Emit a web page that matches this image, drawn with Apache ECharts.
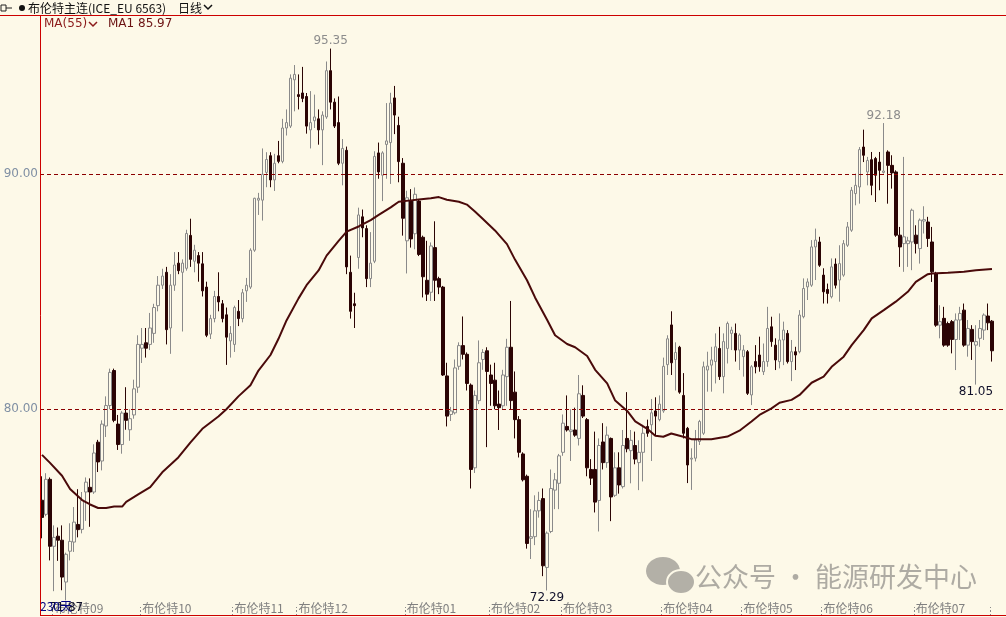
<!DOCTYPE html>
<html><head><meta charset="utf-8">
<script src="https://cdn.jsdelivr.net/npm/echarts@6/dist/echarts.min.js"></script>
<style>html,body{margin:0;padding:0;background:#fdf9e8;}#c{width:1006px;height:617px;}</style>
</head><body><div id="c"></div>
<script>
const opens=[76.13,75.53,77.02,74.17,74.6,74.43,72.65,73.96,74.35,75.1,
74.89,76.48,76.68,76.48,78.6,77.8,79.29,80.16,81.65,79.37,
78.5,79.84,79.13,79.76,80.94,82.6,82.83,82.76,83.23,84.41,
85.28,85.83,83.46,85.28,86.22,85.83,86.0,87.4,86.3,86.54,
86.19,85.2,83.2,83.86,84.8,84.49,84.02,82.91,82.76,84.17,
83.86,85.04,85.2,86.77,88.9,88.9,90.08,90.79,89.76,90.79,
90.55,91.97,92.05,94.02,93.39,93.46,93.31,91.89,92.28,92.36,
91.89,92.44,94.41,93.07,92.2,90.47,91.02,85.83,84.49,86.46,
88.19,87.69,85.56,86.3,90.91,89.96,91.27,91.35,93.25,92.08,
90.47,87.17,88.86,87.47,88.86,87.32,85.49,84.98,86.88,85.56,
85.2,81.42,79.78,79.85,81.83,82.71,82.34,81.03,77.51,80.37,
82.12,82.49,81.46,81.24,80.22,80.15,81.39,82.64,80.73,79.56,
78.1,77.15,74.51,74.58,75.68,76.2,73.27,74.8,76.56,76.85,
78.17,79.27,79.05,79.12,78.76,80.59,79.56,77.44,77.44,76.12,
78.61,77.73,78.76,76.34,77.51,76.71,78.76,78.24,78.46,77.73,
78.17,79.27,79.34,79.93,79.56,79.93,81.9,83.59,82.12,82.64,
80.59,79.19,77.88,77.92,78.63,78.98,81.67,81.88,82.03,82.59,
81.39,82.59,83.23,83.23,82.52,82.24,82.45,80.61,82.03,82.31,
81.6,82.03,83.51,82.73,82.03,82.95,83.23,82.03,82.45,82.45,
83.94,85.21,85.28,86.91,87.12,85.71,85.1,84.79,86.18,85.5,
85.71,86.98,87.62,89.18,89.46,91.16,90.1,90.62,90.67,90.52,
90.08,90.95,90.38,90.1,87.41,87.05,87.05,87.12,87.41,86.84,
88.01,87.97,87.12,85.78,83.58,83.87,83.65,83.73,82.97,83.8,
84.22,82.73,83.4,82.73,83.02,83.37,83.97,83.75];
const closes=[75.40,77.02,74.17,74.55,74.43,72.86,73.83,74.38,75.2,74.88,
76.13,76.9,76.48,78.14,77.76,79.37,80.16,81.57,79.53,78.5,
79.84,79.53,79.6,80.87,82.76,82.76,82.6,83.46,84.33,85.28,
85.67,83.39,85.28,86.14,85.9,86.22,87.48,86.38,86.77,86.22,
85.04,83.15,83.86,84.8,84.57,83.86,83.07,83.23,84.33,83.86,
84.96,85.28,86.77,88.98,88.98,90.0,90.63,89.76,90.47,90.55,
91.97,92.2,94.09,94.25,93.31,93.23,92.05,92.2,92.44,91.89,
92.52,94.41,93.07,92.05,90.47,91.1,86.06,84.17,84.41,88.27,
87.72,85.56,86.22,90.76,90.1,90.91,91.42,93.03,92.52,90.54,
88.13,89.0,87.25,89.15,86.59,85.64,84.9,86.95,85.49,85.2,
81.46,79.71,79.93,81.76,82.71,82.34,81.1,77.44,80.59,81.98,
82.42,81.61,81.1,80.15,80.07,81.46,82.64,80.37,79.56,78.17,
77.0,74.29,74.58,75.68,76.12,73.34,74.73,76.63,77.0,78.02,
79.41,79.12,79.12,78.9,80.66,79.71,77.51,77.07,76.05,78.46,
77.73,78.9,76.27,77.51,76.78,78.46,78.32,78.68,77.88,78.17,
78.98,78.98,79.85,79.71,80.22,81.83,83.0,81.98,82.42,80.73,
78.98,77.63,77.92,78.7,79.48,81.81,81.84,82.1,82.66,81.39,
82.88,83.65,83.37,82.52,83.16,82.52,80.68,81.81,81.81,81.81,
82.03,83.44,82.88,82.1,82.95,83.37,82.03,82.45,82.31,84.01,
85.14,85.42,86.91,87.2,86.13,85.0,84.93,86.06,85.28,86.2,
87.05,87.76,89.32,89.53,91.05,90.81,90.59,89.53,89.96,90.17,
90.14,90.38,90.06,87.41,86.91,87.34,87.17,88.47,87.05,88.05,
88.07,87.27,85.85,83.58,83.73,82.73,82.73,82.97,83.8,84.08,
82.73,83.44,82.88,82.88,83.44,84.01,83.68,82.49];
const lows=[74.51,75.45,73.57,72.26,73.55,72.3,71.87,73.57,73.93,74.55,
74.72,75.25,75.0,76.4,77.33,77.4,78.82,80.0,79.45,78.27,
78.11,79.13,78.66,79.6,80.7,81.97,82.2,82.52,82.83,84.17,
85.12,82.76,82.36,85.04,85.75,83.31,85.9,86.06,85.83,85.43,
84.8,83.07,82.99,83.7,84.17,83.7,81.89,82.2,82.44,83.54,
83.7,84.57,85.12,86.7,88.27,88.03,89.45,89.45,89.29,90.47,
90.47,91.65,91.97,92.68,92.76,93.07,91.73,91.1,91.97,91.26,
90.39,92.36,92.76,91.97,90.39,89.53,85.75,83.86,83.46,85.98,
87.32,85.2,85.2,86.22,89.81,88.86,89.81,89.59,91.71,89.66,
87.39,85.78,86.88,86.81,86.52,84.76,84.61,84.61,84.61,84.9,
81.42,79.27,79.5,79.78,81.68,82.12,80.8,76.63,77.29,80.22,
81.68,78.39,80.15,80.0,79.12,80.0,80.15,80.0,78.76,77.95,
76.93,74.07,73.63,74.22,75.39,72.9,72.29,74.73,75.75,75.75,
78.02,79.05,77.8,78.83,78.46,79.63,77.15,76.78,75.61,74.8,
77.44,77.51,75.24,76.27,76.41,76.63,78.17,76.85,77.66,76.56,
76.93,78.83,77.8,78.9,79.49,79.85,81.46,81.46,80.8,80.66,
78.76,76.86,76.57,77.78,78.48,78.91,80.75,80.75,81.1,81.25,
80.68,81.95,82.52,82.03,81.67,81.39,80.61,80.18,81.53,81.6,
81.46,81.81,82.66,81.67,81.74,81.88,81.95,81.2,81.67,82.38,
83.87,84.65,85.21,85.5,86.06,84.5,84.5,84.72,85.14,84.58,
85.64,86.91,87.55,88.68,88.75,90.52,89.53,89.11,88.82,89.32,
90.03,88.75,89.39,87.34,86.06,85.85,86.06,85.92,86.63,86.2,
87.48,86.91,85.42,83.51,83.02,82.66,82.66,82.38,81.67,82.95,
82.66,82.24,82.1,81.05,82.66,82.95,83.37,82.03];
const highs=[77.15,77.28,77.1,75.06,74.97,75.06,73.9,75.15,75.84,76.6,
76.48,77.1,77.06,78.51,78.7,79.53,80.55,81.73,81.73,79.76,
79.92,80.94,80.0,81.26,83.15,83.46,83.46,84.1,84.49,85.67,
85.98,86.06,85.75,86.69,86.69,86.38,87.64,88.11,87.0,86.69,
86.69,85.43,84.02,85.04,85.83,84.65,84.33,83.54,84.41,84.65,
85.12,85.59,86.85,89.0,89.21,91.1,90.94,90.94,90.87,91.42,
92.36,92.76,94.25,94.65,94.25,94.57,93.46,93.54,93.39,92.76,
92.68,94.8,95.35,93.23,93.31,91.5,91.18,86.54,84.96,88.58,
88.5,87.83,87.54,90.98,91.35,90.98,93.03,93.47,93.76,92.45,
90.69,89.3,89.37,89.44,88.93,87.39,87.17,87.1,88.0,85.64,
85.25,81.98,80.1,82.12,82.85,83.95,82.42,81.1,80.8,82.93,
82.56,82.64,81.9,81.98,80.8,81.68,83.0,84.61,81.61,79.71,
78.17,77.22,75.75,76.34,76.49,76.63,74.8,77.44,77.29,78.1,
79.78,80.59,80.0,80.07,81.46,81.02,79.63,77.88,79.05,78.76,
79.41,79.27,78.8,78.17,78.17,79.12,80.73,79.12,79.05,78.68,
79.34,79.56,80.44,80.51,80.59,82.2,83.15,84.17,82.85,82.7,
81.54,79.25,78.34,79.12,79.55,82.03,82.45,82.66,83.23,83.51,
83.23,83.73,83.51,83.65,83.23,82.73,82.52,81.88,82.73,83.09,
82.8,84.36,83.94,83.02,84.08,83.73,83.37,82.95,82.66,84.22,
85.57,85.57,87.2,87.69,87.34,86.0,85.35,86.42,86.42,86.98,
87.2,87.97,89.46,90.03,91.16,91.9,90.74,90.95,90.74,90.95,
92.18,91.02,90.81,90.17,87.76,90.74,87.34,88.54,87.83,88.12,
88.64,88.19,87.76,85.85,84.43,84.36,83.73,83.8,84.08,84.36,
84.5,83.8,83.58,83.58,83.8,84.08,84.5,83.8];
// MA(55) values at selected candle indices
const maIdx=[0,2,5,7,10,12,14,16,18,20,21,24,27,30,34,37,40,44,46,49,52,54,57,59,61,64,66,69,71,74,76,79,82,84,87,89,92,94,97,99,101,104,106,108,110,113,116,118,121,123,126,128,131,133,136,138,141,143,146,148,151,153,155,157,160,162,167,171,174,177,179,182,184,187,189,192,195,197,200,202,205,207,210,213,216,218,221,222,226,230,233,237];
const maVal=[78.06,77.72,77.17,76.61,76.14,75.95,75.80,75.80,75.86,75.86,76.06,76.38,76.69,77.32,77.95,78.58,79.17,79.69,80.0,80.55,81.02,81.65,82.31,83.0,83.78,84.72,85.28,85.91,86.54,87.17,87.56,87.78,88.05,88.27,88.59,88.83,88.89,88.93,88.98,89.03,88.92,88.83,88.71,88.42,88.1,87.61,87.03,86.37,85.49,84.76,83.81,83.15,82.78,82.64,82.27,81.68,81.1,80.37,79.93,79.49,79.17,78.87,78.83,78.97,78.83,78.73,78.73,78.84,79.09,79.48,79.76,80.04,80.28,80.4,80.61,81.13,81.39,81.81,82.24,82.73,83.37,83.87,84.22,84.58,85.0,85.42,85.75,85.78,85.81,85.85,85.92,85.97];
const tickIdx=[3,25,48,64,91,112,130,155,175,195,218,237];
const tickText=['布伦特09','布伦特10','布伦特11','布伦特12','布伦特01','布伦特02','布伦特03','布伦特04','布伦特05','布伦特06','布伦特07',''];
const refLines=[90,80];
const highMarks=[72,210];
const lowMarks=[126,233,6];

const BG='#fdf9e8', DARK='#2b0404', UPC='#8a8a8a', RED='#cc0000';
const N=opens.length, EXTRA=3;
const cats=Array.from({length:N+EXTRA},(_,i)=>String(i));
const candles=opens.map((o,i)=>[o,closes[i],lows[i],highs[i]]);
const maData=maIdx.map((x,i)=>[x,maVal[i]]);
const tickSet=new Set(tickIdx);
const cjk='"Noto Sans CJK SC", sans-serif';
const latin='"DejaVu Sans", sans-serif';

const marks=[];
highMarks.forEach(i=>marks.push({coord:[i,highs[i]],value:highs[i].toFixed(2),label:{position:'top',distance:1,color:'#8c8c8c'}}));
lowMarks.forEach(i=>marks.push({coord:[i,lows[i]],value:lows[i].toFixed(2),label:{position:'bottom',distance:1,color:'#10102a'}}));

const chart=echarts.init(document.getElementById('c'));
chart.setOption({
  animation:false,
  backgroundColor:BG,
  textStyle:{fontFamily:latin},
  grid:{left:40,right:0,top:16,bottom:1},
  xAxis:{type:'category',data:cats,boundaryGap:true,
    axisLine:{show:false},
    axisTick:{show:true,inside:true,length:9,interval:(i)=>tickSet.has(i),lineStyle:{color:'#8a8a8a',type:[2,2]}},
    axisLabel:{show:true,inside:true,margin:2,align:'left',interval:(i)=>tickSet.has(i),
      formatter:(v,i)=>{const k=tickIdx.indexOf(i);return k>=0?tickText[k]:'';},
      color:'#808080',fontSize:12,fontFamily:cjk},
    splitLine:{show:false}},
  yAxis:{type:'value',min:71.204,max:96.736,show:true,axisLine:{show:false},axisTick:{show:false},axisLabel:{show:false},splitLine:{show:false}},
  series:[
    {type:'candlestick',data:candles,barWidth:3,
      itemStyle:{color:BG,color0:DARK,borderColor:UPC,borderColor0:DARK,borderWidth:1},
      markLine:{silent:true,symbol:['none','none'],
        lineStyle:{color:'#8b0000',type:[4,3],width:1},
        label:{position:'start',distance:2,color:'#8090a4',fontSize:12,fontFamily:latin,formatter:(p)=>Number(p.value).toFixed(2)},
        data:refLines.map(v=>({yAxis:v}))},
      markPoint:{symbol:'circle',symbolSize:1,itemStyle:{color:'rgba(0,0,0,0)'},silent:true,
        label:{show:true,fontSize:12,fontFamily:latin,formatter:(p)=>p.value},
        data:marks}},
    {type:'line',data:maData,symbol:'none',smooth:false,z:5,
      lineStyle:{color:'#4a0a0a',width:2}}
  ],
  graphic:[
    {type:'line',shape:{x1:0,y1:15.5,x2:1006,y2:15.5},style:{stroke:RED,lineWidth:1},z:100},
    {type:'line',shape:{x1:40.5,y1:15.5,x2:40.5,y2:616},style:{stroke:RED,lineWidth:1},z:100},
    {type:'line',shape:{x1:40,y1:615.5,x2:1006,y2:615.5},style:{stroke:RED,lineWidth:1},z:100},
    // header
    {type:'rect',shape:{x:1,y:5,width:5,height:6},style:{stroke:'#222',lineWidth:1,fill:null}},
    {type:'polyline',shape:{points:[[6,8],[12,8]]},style:{stroke:'#222',lineWidth:1}},
    {type:'circle',shape:{cx:22,cy:8,r:3},style:{fill:'#111'}},
    {type:'text',style:{text:'布伦特主连(ICE_EU 6563)',x:28,y:8,verticalAlign:'middle',font:'12px '+cjk,fill:'#111'}},
    {type:'text',style:{text:'日线',x:178,y:8,verticalAlign:'middle',font:'12px '+cjk,fill:'#111'}},
    {type:'polyline',shape:{points:[[204,5],[208,9],[212,5]]},style:{stroke:'#111',lineWidth:1.5,fill:null}},
    {type:'text',style:{text:'MA(55)',x:44,y:24,verticalAlign:'middle',font:'12px '+latin,fill:'#8b1a1a'}},
    {type:'polyline',shape:{points:[[89,22],[93,26],[97,22]]},style:{stroke:'#8b1a1a',lineWidth:1.5,fill:null}},
    {type:'text',style:{text:'MA1 '+maVal[maVal.length-1].toFixed(2),x:108,y:24,verticalAlign:'middle',font:'12px '+latin,fill:'#6b1212'}},
    {type:'text',style:{text:'230天',x:40,y:606,verticalAlign:'middle',font:'12px '+cjk,fill:'#000080'},z:50},
    // watermark
    {type:'ellipse',shape:{cx:663,cy:571,rx:17,ry:14},style:{fill:'#b3b0a7'},z:40},
    {type:'ellipse',shape:{cx:681,cy:582,rx:14,ry:12},style:{fill:'#b3b0a7',stroke:BG,lineWidth:2},z:41},
    {type:'text',style:{text:'公众号 · 能源研发中心',x:695,y:577,verticalAlign:'middle',font:'27px '+cjk,fill:'rgba(160,158,150,0.85)'},z:40}
  ]
});
</script></body></html>
